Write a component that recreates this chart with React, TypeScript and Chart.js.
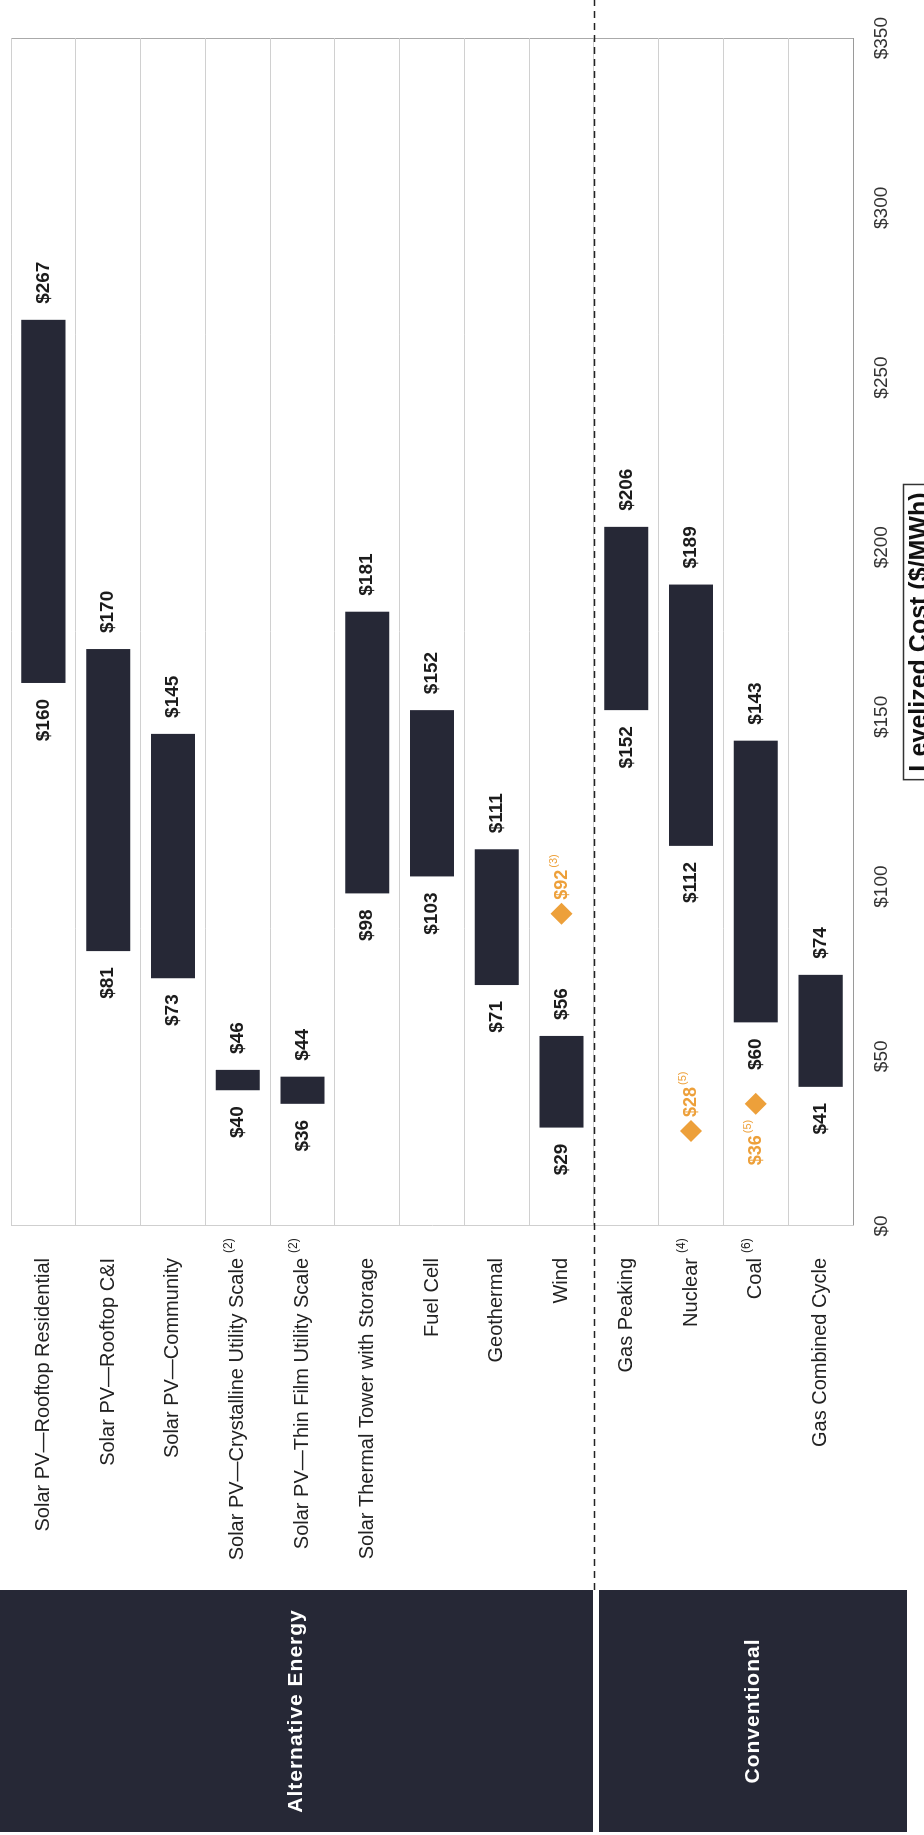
import React, { useEffect, useRef } from 'react';
import { Chart, registerables } from 'chart.js';

Chart.register(...registerables);

// ---------- data ----------
const categories = [
  'Solar PV\u2014Rooftop Residential',
  'Solar PV\u2014Rooftop C&I',
  'Solar PV\u2014Community',
  'Solar PV\u2014Crystalline Utility Scale',
  'Solar PV\u2014Thin Film Utility Scale',
  'Solar Thermal Tower with Storage',
  'Fuel Cell',
  'Geothermal',
  'Wind',
  'Gas Peaking',
  'Nuclear',
  'Coal',
  'Gas Combined Cycle',
];
const categoryNotes = ['', '', '', '(2)', '(2)', '', '', '', '', '', '(4)', '(6)', ''];
const lowCosts = [160, 81, 73, 40, 36, 98, 103, 71, 29, 152, 112, 60, 41];
const highCosts = [267, 170, 145, 46, 44, 181, 152, 111, 56, 206, 189, 143, 74];
const markerCosts = [null, null, null, null, null, null, null, null, 92, null, 28, 36, null];
const markerNotes = ['', '', '', '', '', '', '', '', '(3)', '', '(5)', '(5)', ''];
const markerLabelSide = ['', '', '', '', '', '', '', '', 'right', '', 'right', 'left', ''];
const groupNames = ['Alternative Energy', 'Conventional'];
const groupStarts = [0, 9];
const groupEnds = [8, 12];
const costTicks = [0, 50, 100, 150, 200, 250, 300, 350];
const axisTitle = 'Levelized Cost ($/MWh)';

// ---------- style ----------
const FONT = '"Liberation Sans", Arial, sans-serif';
const BAR_COLOR = '#262836';
const ORANGE = '#EDA03A';
const W = 1835;
const H = 924;

const overlayPlugin = {
  id: 'overlay',
  beforeDraw(chart: any) {
    const ctx = chart.ctx;
    ctx.save();
    ctx.fillStyle = '#ffffff';
    ctx.fillRect(0, 0, chart.width, chart.height);
    ctx.restore();
  },
  afterDraw(chart: any) {
    const ctx = chart.ctx;
    const xs = chart.scales.x;
    const ys = chart.scales.y;
    const area = chart.chartArea;
    const band = ys.getPixelForValue(1) - ys.getPixelForValue(0);
    const splitY = Math.round(ys.getPixelForValue(groupStarts[1]) - band / 2);
    ctx.save();

    // dashed separator between groups
    const boxLeft = 3;
    const boxRight = 245;
    ctx.strokeStyle = '#222';
    ctx.lineWidth = 1.6;
    ctx.setLineDash([7, 5]);
    ctx.beginPath();
    ctx.moveTo(boxRight, splitY + 0.5);
    ctx.lineTo(chart.width, splitY + 0.5);
    ctx.stroke();
    ctx.setLineDash([]);

    // group boxes
    groupNames.forEach((name, g) => {
      const top = g === 0 ? 0 : splitY + 5;
      const bottom = g === 0 ? splitY - 1 : area.bottom + 54;
      ctx.fillStyle = BAR_COLOR;
      ctx.fillRect(boxLeft, top, boxRight - boxLeft, bottom - top);
      ctx.fillStyle = '#ffffff';
      ctx.font = 'bold 21px ' + FONT;
      (ctx as any).letterSpacing = '1px';
      ctx.textAlign = 'center';
      ctx.textBaseline = 'middle';
      ctx.fillText(name, (boxLeft + boxRight) / 2, (top + bottom) / 2);
      (ctx as any).letterSpacing = '0px';
    });

    // category labels
    categories.forEach((name, i) => {
      const cy = ys.getPixelForValue(i);
      const xr = area.left - 32;
      ctx.fillStyle = '#222';
      ctx.font = '20px ' + FONT;
      ctx.textAlign = 'right';
      ctx.textBaseline = 'middle';
      ctx.fillText(name, xr, cy);
      if (categoryNotes[i]) {
        ctx.font = '12px ' + FONT;
        ctx.textAlign = 'left';
        ctx.fillText(categoryNotes[i], xr + 5, cy - 9);
      }
    });

    // bar value labels
    ctx.fillStyle = '#1c1c1c';
    ctx.font = 'bold 19px ' + FONT;
    ctx.textBaseline = 'middle';
    categories.forEach((_, i) => {
      const cy = ys.getPixelForValue(i);
      ctx.textAlign = 'right';
      ctx.fillText('$' + lowCosts[i], xs.getPixelForValue(lowCosts[i]) - 16, cy);
      ctx.textAlign = 'left';
      ctx.fillText('$' + highCosts[i], xs.getPixelForValue(highCosts[i]) + 16, cy);
    });

    // marker labels
    categories.forEach((_, i) => {
      const v = markerCosts[i];
      if (v === null) return;
      const cy = ys.getPixelForValue(i);
      const px = xs.getPixelForValue(v);
      const main = '$' + v;
      ctx.fillStyle = ORANGE;
      ctx.font = 'bold 18px ' + FONT;
      const mw = ctx.measureText(main).width;
      ctx.font = '11px ' + FONT;
      const nw = ctx.measureText(markerNotes[i]).width;
      const total = mw + 2 + nw;
      const startX = markerLabelSide[i] === 'right' ? px + 14 : px - 16 - total;
      ctx.textAlign = 'left';
      ctx.textBaseline = 'middle';
      ctx.font = 'bold 18px ' + FONT;
      ctx.fillText(main, startX, cy);
      ctx.font = '11px ' + FONT;
      ctx.fillText(markerNotes[i], startX + mw + 2, cy - 8);
    });

    // axis title box
    ctx.font = 'bold 25px ' + FONT;
    const tw = ctx.measureText(axisTitle).width;
    const cx = (area.left + area.right) / 2;
    const boxTop = area.bottom + 50;
    ctx.strokeStyle = '#333';
    ctx.lineWidth = 1.5;
    ctx.strokeRect(cx - tw / 2 - 8, boxTop + 0.5, tw + 16, 44);
    ctx.fillStyle = '#111';
    ctx.textAlign = 'center';
    ctx.textBaseline = 'top';
    ctx.fillText(axisTitle, cx, boxTop + 5);

    ctx.restore();
  },
};

export default function App() {
  const ref = useRef<HTMLCanvasElement>(null);

  useEffect(() => {
    document.body.style.margin = '0';
    const canvas = ref.current;
    if (!canvas) return;
    const chart = new Chart(canvas, {
      type: 'bar',
      data: {
        labels: categories,
        datasets: [
          {
            type: 'bar',
            label: 'Cost range',
            data: categories.map((_, i) => [lowCosts[i], highCosts[i]]) as any,
            backgroundColor: BAR_COLOR,
            borderWidth: 0,
            barPercentage: 0.68,
            categoryPercentage: 1,
          } as any,
          {
            type: 'line',
            label: 'Marker',
            data: markerCosts as any,
            indexAxis: 'y',
            showLine: false,
            pointStyle: 'rectRot',
            pointRadius: 11,
            pointHoverRadius: 11,
            pointBackgroundColor: ORANGE,
            pointBorderWidth: 0,
            borderColor: ORANGE,
          } as any,
        ],
      },
      options: {
        indexAxis: 'y',
        responsive: false,
        maintainAspectRatio: false,
        animation: false,
        devicePixelRatio: 1,
        layout: { padding: { top: 9, right: 32, left: 0, bottom: 0 } },
        plugins: {
          legend: { display: false },
          tooltip: { enabled: false },
        },
        scales: {
          x: {
            type: 'linear',
            position: 'bottom',
            min: 0,
            max: 350,
            afterBuildTicks: (s: any) => {
              s.ticks = costTicks.map((v) => ({ value: v }));
            },
            afterFit: (s: any) => {
              s.height = 71;
            },
            ticks: {
              callback: (v: any) => '$' + v,
              font: { family: FONT, size: 19 },
              color: '#333',
              padding: 17,
              maxRotation: 0,
            },
            grid: {
              drawTicks: false,
              color: (c: any) => (c.tick && c.tick.value === 350 ? '#aaaaaa' : 'rgba(0,0,0,0)'),
              lineWidth: 1,
            },
            border: { display: true, color: '#9a9a9a', width: 1 },
          },
          y: {
            type: 'category',
            position: 'left',
            offset: true,
            afterFit: (s: any) => {
              s.width = 609;
            },
            ticks: { display: false },
            grid: { offset: true, drawTicks: false, color: '#d0d0d0', lineWidth: 1 },
            border: { display: true, color: '#cfcfcf', width: 1 },
          },
        },
      } as any,
      plugins: [overlayPlugin],
    });
    return () => chart.destroy();
  }, []);

  return (
    <div style={{ position: 'relative', width: 924, height: 1835, overflow: 'hidden', background: '#fff' }}>
      <canvas
        ref={ref}
        width={W}
        height={H}
        style={{
          position: 'absolute',
          left: 0,
          top: 0,
          width: W,
          height: H,
          transformOrigin: '0 0',
          transform: `translate(0px, ${W}px) rotate(-90deg)`,
        }}
      />
    </div>
  );
}
